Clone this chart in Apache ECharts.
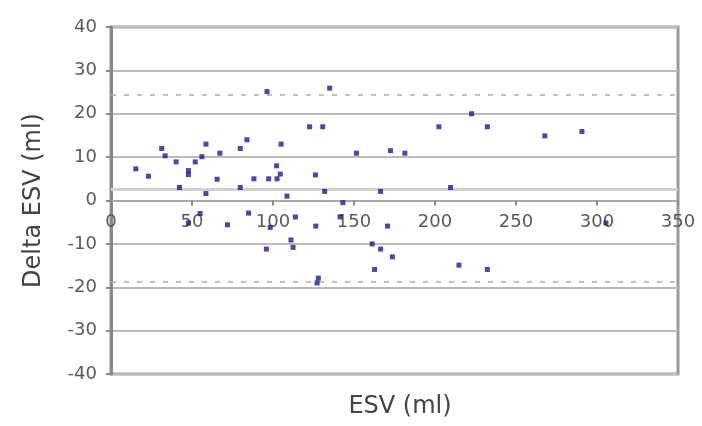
<!DOCTYPE html>
<html>
<head>
<meta charset="utf-8">
<script src="https://cdn.jsdelivr.net/npm/echarts@6/dist/echarts.min.js"></script>
<style>html,body{margin:0;padding:0;background:#fff;}#c{width:702px;height:426px;}</style>
</head>
<body>
<div id="c"></div>
<script>
const esv = [15.3,23.1,31.3,33.4,40.2,42.3,47.8,47.8,52.0,56.1,58.6,58.6,55.0,47.8,65.5,67.2,71.9,79.8,79.8,83.9,84.9,88.2,96.3,97.3,95.9,98.3,102.2,102.5,104.5,105.0,108.6,111.1,112.4,113.8,122.6,126.2,126.4,128.0,127.2,130.7,131.9,135.0,141.4,143.1,151.5,161.2,162.7,166.4,166.4,170.7,172.5,173.7,181.4,202.4,209.6,214.8,222.6,232.3,232.3,267.8,290.7,305.5];
const deltaEsv = [7.3,5.6,12.0,10.3,8.9,3.0,6.9,6.0,8.9,10.1,13.0,1.6,-3.0,-5.2,4.9,10.9,-5.6,12.0,3.0,14.0,-2.9,5.0,25.1,5.0,-11.2,-6.2,8.0,5.0,6.1,13.0,1.0,-9.1,-10.8,-3.8,17.0,5.9,-5.9,-17.9,-19.0,17.0,2.1,25.9,-3.8,-0.5,10.9,-10.0,-15.9,2.1,-11.2,-5.9,11.5,-13.0,10.9,17.0,3.0,-14.9,20.0,17.0,-15.9,14.9,15.9,-5.2];
const meanDiff = 2.7;
const limitsOfAgreement = [24.4, -18.8];
const xTicks = [0, 350, 50];
const yTicks = [-40, 40, 10];

const FONT = 'DejaVu Sans, sans-serif';
const points = esv.map((x, i) => [x, deltaEsv[i]]);
const chart = echarts.init(document.getElementById('c'));
const gridTop = 27, gridBottom = 52, H = 426;
const plotH = H - gridTop - gridBottom;
// place the x axis on the y = 0 line
const zeroOffset = -plotH * (0 - yTicks[0]) / (yTicks[1] - yTicks[0]);
chart.setOption({
  animation: false,
  backgroundColor: '#fff',
  grid: { left: 111, right: 24, top: gridTop, bottom: gridBottom, show: true, borderColor: '#999', borderWidth: 3 },
  title: {
    text: 'ESV (ml)', left: 395, top: 390, textAlign: 'center',
    textStyle: { fontFamily: FONT, fontSize: 24, fontWeight: 'normal', color: '#444' }
  },
  xAxis: {
    type: 'value', min: xTicks[0], max: xTicks[1], interval: xTicks[2],
    position: 'bottom', offset: zeroOffset,
    axisLine: { onZero: false, lineStyle: { color: '#aaa', width: 2 } },
    axisTick: { show: true, inside: false, length: 5, lineStyle: { color: '#888', width: 2 } },
    axisLabel: { margin: 13, fontFamily: FONT, fontSize: 18, color: '#5a5a5a', showMaxLabel: true, showMinLabel: true },
    splitLine: { show: false }
  },
  yAxis: {
    type: 'value', min: yTicks[0], max: yTicks[1], interval: yTicks[2],
    name: 'Delta ESV (ml)', nameLocation: 'middle', nameGap: 65,
    nameTextStyle: { fontFamily: FONT, fontSize: 24, color: '#444' },
    axisLine: { show: true, lineStyle: { color: '#888', width: 3 } },
    axisTick: { show: true, length: 5, lineStyle: { color: '#888', width: 2 } },
    axisLabel: { margin: 14, fontFamily: FONT, fontSize: 18, color: '#5a5a5a' },
    splitLine: { show: true, lineStyle: { color: '#bbb', width: 2 } }
  },
  series: [{
    type: 'scatter',
    data: points,
    symbol: 'rect',
    symbolSize: 5,
    itemStyle: { color: '#1a1a8e' },
    markLine: {
      silent: true, symbol: 'none', label: { show: false },
      data: [
        { yAxis: meanDiff, lineStyle: { type: 'solid', color: '#d0d0d0', width: 3 } },
        { yAxis: limitsOfAgreement[0], lineStyle: { type: [5, 8], color: '#adadad', width: 1.5 } },
        { yAxis: limitsOfAgreement[1], lineStyle: { type: [5, 8], color: '#adadad', width: 1.5 } }
      ]
    },
    z: 5
  }]
});
</script>
</body>
</html>
